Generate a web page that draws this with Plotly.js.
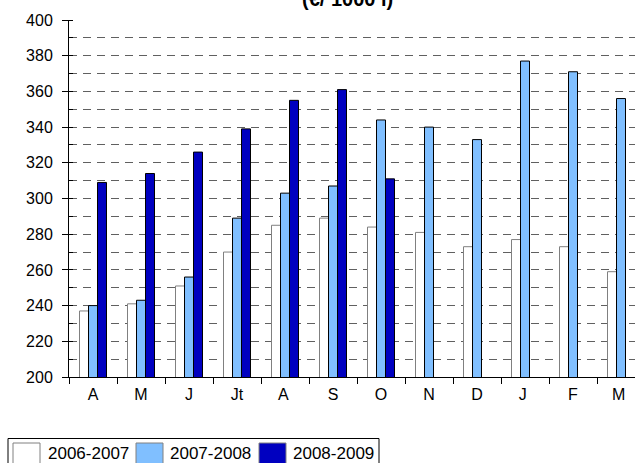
<!DOCTYPE html>
<html>
<head>
<meta charset="utf-8">
<script src="https://cdn.plot.ly/plotly-3.0.1.min.js"></script>
<style>
html,body{margin:0;padding:0;overflow:hidden;background:#fff;width:635px;height:463px;}
#chart{width:660px;height:463px;}
</style>
</head>
<body>
<div id="chart"></div>
<script>
// ---- data ----
var months = ["A", "M", "J", "Jt", "A ", "S", "O", "N", "D", "J ", "F", "M "];
var seriesNames = ["2006-2007", "2007-2008", "2008-2009"];
var s2006 = [237, 241, 251, 270, 285, 289, 284, 281, 273, 277, 273, 259];
var s2007 = [240, 243, 256, 289, 303, 307, 344, 340, 333, 377, 371, 356];
var s2008 = [309, 314, 326, 339, 355, 361, 311, null, null, null, null, null];
var titleText = "(€/ 1000 l)";

var fills = ["#FFFFFF", "#80BFFF", "#0000C0"];
var edges = ["#808080", "#000000", "#000000"];
var FONT = "Liberation Sans, Arial, sans-serif";

var W = 660, H = 463, ML = 69, MR = 15, MT = 20, MB = 86;
var PW = W - ML - MR, PH = H - MT - MB;
function px(x){ return (x - ML) / PW; }
function py(y){ return (H - MB - y) / PH; }

var allSeries = [s2006, s2007, s2008];
var traces = allSeries.map(function(vals, i){
  return {
    type: "bar", x: months, y: vals, name: seriesNames[i],
    marker: {color: fills[i], line: {color: edges[i], width: 1}},
    showlegend: false, hoverinfo: "x+y+name"
  };
});

// custom legend (box, swatches, labels)
var shapes = [{
  type: "rect", xref: "paper", yref: "paper",
  x0: px(8), x1: px(379), y0: py(475), y1: py(438.5),
  line: {color: "#000", width: 1}, fillcolor: "rgba(0,0,0,0)"
}];
var annotations = [{
  text: "<b>" + titleText + "</b>", xref: "paper", yref: "paper",
  x: px(347), y: py(12), xanchor: "center", yanchor: "bottom",
  showarrow: false, font: {family: FONT, size: 20, color: "#000"}
}];
var swX = [13, 136, 259];
var txX = [45.5, 167.5, 290.5];
for (var i = 0; i < 3; i++) {
  shapes.push({
    type: "rect", xref: "paper", yref: "paper",
    x0: px(swX[i]), x1: px(swX[i] + 27), y0: py(475), y1: py(443),
    line: {color: "#808080", width: 1},
    fillcolor: fills[i]
  });
  annotations.push({
    text: seriesNames[i], xref: "paper", yref: "paper",
    x: px(txX[i]), y: py(453.5), xanchor: "left", yanchor: "middle",
    showarrow: false, font: {family: FONT, size: 17, color: "#000"}
  });
}

var layout = {
  width: W, height: H,
  margin: {l: ML, r: MR, t: MT, b: MB, pad: 0},
  paper_bgcolor: "#fff", plot_bgcolor: "#fff",
  font: {family: FONT, size: 16, color: "#000"},
  barmode: "group", bargap: 0.4375, bargroupgap: 0,
  showlegend: false,
  xaxis: {
    type: "category", showline: true, linecolor: "#000", linewidth: 1,
    ticks: "outside", tickson: "boundaries", ticklen: 6, tickcolor: "#000",
    ticklabelstandoff: 3,
    showgrid: false, zeroline: false, fixedrange: true,
    tickfont: {family: FONT, size: 16, color: "#000"}
  },
  yaxis: {
    range: [200, 400], tickmode: "linear", tick0: 200, dtick: 20,
    showline: true, linecolor: "#000", linewidth: 1,
    ticks: "outside", ticklen: 6, tickcolor: "#000", ticklabelstandoff: 6,
    showgrid: true, gridcolor: "#606060", gridwidth: 1, griddash: "8px,6px",
    zeroline: false, fixedrange: true,
    tickfont: {family: FONT, size: 16, color: "#000"},
    minor: {tickmode: "linear", tick0: 200, dtick: 10, showgrid: true,
            gridcolor: "#606060", gridwidth: 1, griddash: "8px,6px",
            ticks: "inside", ticklen: 4, tickcolor: "#000"}
  },
  shapes: shapes,
  annotations: annotations
};

Plotly.newPlot("chart", traces, layout, {displayModeBar: false, staticPlot: true});
</script>
</body>
</html>
